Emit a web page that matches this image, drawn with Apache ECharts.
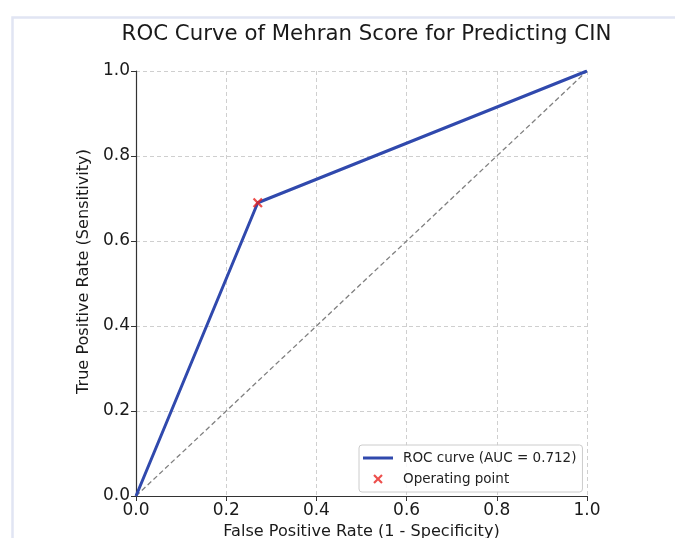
<!DOCTYPE html>
<html>
<head>
<meta charset="utf-8">
<script src="https://cdn.jsdelivr.net/npm/echarts@6/dist/echarts.min.js"></script>
<style>
html,body{margin:0;padding:0;background:#fff;}
#chart{width:675px;height:538px;}
</style>
</head>
<body>
<div id="chart"></div>
<script>
// Data
var rocFPR = [0.0, 0.27, 1.0];
var rocTPR = [0.0, 0.69, 1.0];
var diagFPR = [0.0, 1.0];
var diagTPR = [0.0, 1.0];
var opFPR = [0.27];
var opTPR = [0.69];
var tickLabels = ['0.0', '0.2', '0.4', '0.6', '0.8', '1.0'];
var rocName = 'ROC curve (AUC = 0.712)';
var opName = 'Operating point';

function pairs(xs, ys) { return xs.map(function (x, i) { return [x, ys[i]]; }); }

var FONT = 'DejaVu Sans';
var xMark = 'path://M0,1.6 L1.6,0 L5,3.4 L8.4,0 L10,1.6 L6.6,5 L10,8.4 L8.4,10 L5,6.6 L1.6,10 L0,8.4 L3.4,5 Z';
var lineIcon = 'path://M0,0 L30,0 L30,3 L0,3 Z';

var chart = echarts.init(document.getElementById('chart'), null, { renderer: 'canvas' });
chart.setOption({
  backgroundColor: '#ffffff',
  animation: false,
  textStyle: { fontFamily: FONT },
  title: {
    text: 'ROC Curve of Mehran Score for Predicting CIN',
    left: 361.5, top: 19, textAlign: 'center',
    textStyle: { fontFamily: FONT, fontSize: 21.3, fontWeight: 'normal', color: '#1a1a1a' }
  },
  graphic: [{
    type: 'rect', left: 10, top: 15, z: -10, silent: true,
    shape: { width: 700, height: 600 },
    style: { fill: 'none', stroke: '#e1e5f3', lineWidth: 2.5 }
  }],
  grid: { left: 136, right: 88, top: 71, bottom: 42, containLabel: false, outerBoundsMode: 'none' },
  legend: {
    orient: 'vertical', left: 359, top: 445,
    padding: [5, 6, 5, 4], itemGap: 5, itemWidth: 30, itemHeight: 9.5,
    symbolKeepAspect: true,
    backgroundColor: 'rgba(255,255,255,0.85)', borderColor: '#cccccc', borderWidth: 1, borderRadius: 3,
    textStyle: { fontFamily: FONT, fontSize: 13.5, color: '#222', padding: [0, 0, 0, 5], lineHeight: 16 },
    data: [
      { name: rocName, icon: lineIcon, itemStyle: { color: '#3049ad' } },
      { name: opName, icon: xMark, itemStyle: { color: '#e8231f' } }
    ]
  },
  xAxis: {
    type: 'value', min: 0, max: 1, interval: 0.2,
    name: 'False Positive Rate (1 - Specificity)', nameLocation: 'middle', nameGap: 25,
    nameTextStyle: { fontFamily: FONT, fontSize: 16.1, color: '#1a1a1a' },
    axisLine: { show: true, onZero: false, lineStyle: { color: '#333', width: 1.2 } },
    axisTick: { show: true, length: 5, lineStyle: { color: '#333' } },
    axisLabel: { fontFamily: FONT, fontSize: 17, color: '#1a1a1a', margin: 6,
      formatter: function (v) { return tickLabels[Math.round(v * 5)]; } },
    splitLine: { show: true, lineStyle: { color: '#cfcfcf', type: [4, 3], width: 1 } }
  },
  yAxis: {
    type: 'value', min: 0, max: 1, interval: 0.2,
    name: 'True Positive Rate (Sensitivity)', nameLocation: 'middle', nameGap: 36,
    nameTextStyle: { fontFamily: FONT, fontSize: 16.1, color: '#1a1a1a', padding: [0, 0, 0, 24] },
    axisLine: { show: true, onZero: false, lineStyle: { color: '#333', width: 1.2 } },
    axisTick: { show: true, length: 5, lineStyle: { color: '#333' } },
    axisLabel: { fontFamily: FONT, fontSize: 17, color: '#1a1a1a', margin: 6,
      formatter: function (v) { return tickLabels[Math.round(v * 5)]; } },
    splitLine: { show: true, lineStyle: { color: '#cfcfcf', type: [4, 3], width: 1 } }
  },
  series: [
    {
      name: rocName, type: 'line', data: pairs(rocFPR, rocTPR), symbol: 'none', z: 3,
      lineStyle: { color: '#3049ad', width: 3 }, itemStyle: { color: '#3049ad' }
    },
    {
      name: 'chance', type: 'line', data: pairs(diagFPR, diagTPR), symbol: 'none', z: 2,
      lineStyle: { color: '#808080', width: 1.3, type: [5, 3] }
    },
    {
      name: opName, type: 'scatter', data: pairs(opFPR, opTPR), symbol: xMark, symbolSize: 10, z: 4,
      itemStyle: { color: '#e8231f' }
    }
  ]
});
</script>
</body>
</html>
